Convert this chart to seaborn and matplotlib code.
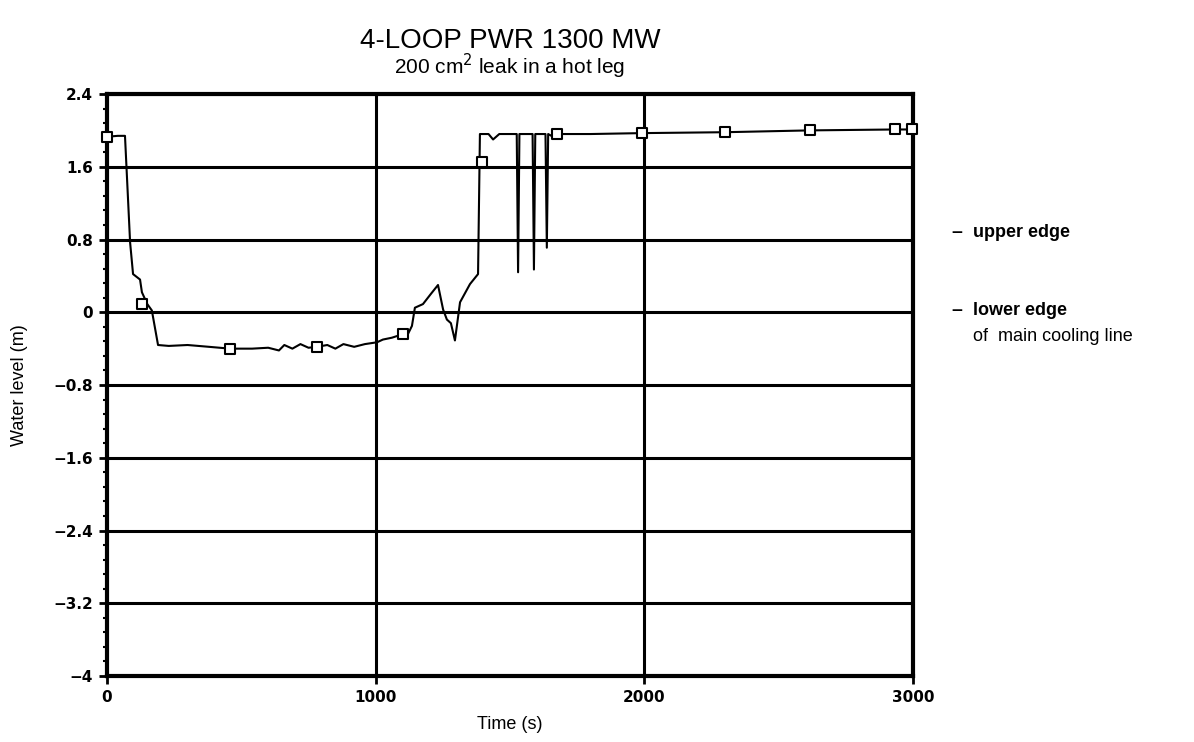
import numpy as np
import pandas as pd
import matplotlib
matplotlib.use('Agg')
import matplotlib.pyplot as plt
import seaborn as sns
from matplotlib.ticker import AutoMinorLocator, FixedLocator, FixedFormatter

sns.set_theme(style='white')
plt.rcParams['font.family'] = ['Liberation Sans', 'DejaVu Sans']
plt.rcParams['text.color'] = 'black'
plt.rcParams['axes.labelcolor'] = 'black'
plt.rcParams['xtick.color'] = 'black'
plt.rcParams['ytick.color'] = 'black'

# water level trace (time in s, level in m)
time_s = [0, 40, 67, 86, 97, 123, 130, 150, 167, 190, 230, 300, 380, 458, 540, 600,
          640, 660, 690, 720, 750, 781, 820, 850, 880, 920, 960, 1005, 1027, 1060,
          1102, 1120, 1135, 1146, 1176, 1205, 1232, 1251, 1265, 1280, 1295, 1314,
          1351, 1381, 1388, 1396, 1420, 1437, 1460, 1525, 1530, 1535, 1545, 1584,
          1589, 1594, 1605, 1632, 1637, 1642, 1660, 1675, 1800, 1991, 2300, 2616,
          2933, 3000]
level_m = [1.93, 1.94, 1.94, 0.77, 0.42, 0.36, 0.22, 0.09, 0.02, -0.36, -0.37,
           -0.36, -0.38, -0.40, -0.40, -0.39, -0.42, -0.36, -0.40, -0.35, -0.39,
           -0.38, -0.36, -0.40, -0.35, -0.38, -0.35, -0.33, -0.30, -0.28, -0.24,
           -0.24, -0.15, 0.05, 0.09, 0.20, 0.30, 0.03, -0.08, -0.12, -0.31, 0.11,
           0.31, 0.42, 1.96, 1.96, 1.96, 1.90, 1.96, 1.96, 0.44, 1.96, 1.96, 1.96,
           0.47, 1.96, 1.96, 1.96, 0.71, 1.96, 1.93, 1.96, 1.96, 1.97, 1.98, 2.00,
           2.01, 2.01]

# square markers along the curve
marker_t = [0, 130, 458, 781, 1102, 1396, 1675, 1991, 2300, 2616, 2933, 2996]
marker_y = [1.93, 0.09, -0.40, -0.38, -0.24, 1.65, 1.96, 1.97, 1.98, 2.00, 2.01, 2.01]

y_ticks = [2.4, 1.6, 0.8, 0, -0.8, -1.6, -2.4, -3.2, -4]
y_labels = ['2.4', '1.6', '0.8', '0', '\u22120.8', '\u22121.6', '\u22122.4', '\u22123.2', '\u22124']
x_ticks = [0, 1000, 2000, 3000]
x_labels = ['0', '1000', '2000', '3000']

df = pd.DataFrame({'t': time_s, 'h': level_m})
mk = pd.DataFrame({'t': marker_t, 'h': marker_y})

fig = plt.figure(figsize=(11.94, 7.42), dpi=100)
ax = fig.add_axes([0.0896, 0.0889, 0.6751, 0.7844])

# grid lines drawn first
for yv in y_ticks:
    ax.axhline(yv, color='black', lw=2.2, zorder=1)
for xv in [1000, 2000]:
    ax.axvline(xv, color='black', lw=2.2, zorder=1)

sns.lineplot(data=df, x='t', y='h', ax=ax, color='black', lw=1.5, sort=False,
             estimator=None, zorder=3)
sns.scatterplot(data=mk, x='t', y='h', ax=ax, marker='s', s=55, facecolor='white',
                edgecolor='black', linewidth=1.5, zorder=4, clip_on=False)

ax.set_xlim(0, 3000)
ax.set_ylim(-4, 2.4)
ax.yaxis.set_major_locator(FixedLocator(y_ticks))
ax.yaxis.set_major_formatter(FixedFormatter(y_labels))
ax.xaxis.set_major_locator(FixedLocator(x_ticks))
ax.xaxis.set_major_formatter(FixedFormatter(x_labels))
ax.yaxis.set_minor_locator(AutoMinorLocator(5))
ax.tick_params(axis='both', which='major', direction='out', length=6, width=2,
               color='black', labelsize=11, pad=4)
ax.tick_params(axis='y', which='minor', direction='out', length=3, width=1.5,
               color='black', left=True)
ax.tick_params(axis='x', which='major', bottom=True)
ax.tick_params(axis='y', which='major', left=True)
for lab in ax.get_xticklabels() + ax.get_yticklabels():
    lab.set_fontweight('bold')
    lab.set_family('DejaVu Sans')

for side in ['left', 'right', 'top', 'bottom']:
    ax.spines[side].set_visible(True)
    ax.spines[side].set_color('black')
    ax.spines[side].set_linewidth(3)

ax.set_xlabel('Time (s)', fontsize=13, labelpad=8)
ax.set_ylabel('Water level (m)', fontsize=13, labelpad=18)

fig.text(0.427, 0.945, '4-LOOP PWR 1300 MW', ha='center', va='center', fontsize=20)
fig.text(0.427, 0.91, '200 cm$^2$ leak in a hot leg', ha='center', va='center', fontsize=15)

# edge annotations at the right
fig.text(0.797, 0.687, '\u2013', ha='left', va='center', fontsize=14, fontweight='bold')
fig.text(0.815, 0.687, 'upper edge', ha='left', va='center', fontsize=13, fontweight='bold')
fig.text(0.797, 0.582, '\u2013', ha='left', va='center', fontsize=14, fontweight='bold')
fig.text(0.815, 0.582, 'lower edge', ha='left', va='center', fontsize=13, fontweight='bold')
fig.text(0.815, 0.547, 'of  main cooling line', ha='left', va='center', fontsize=13)

fig.savefig('out.png', dpi=100)
